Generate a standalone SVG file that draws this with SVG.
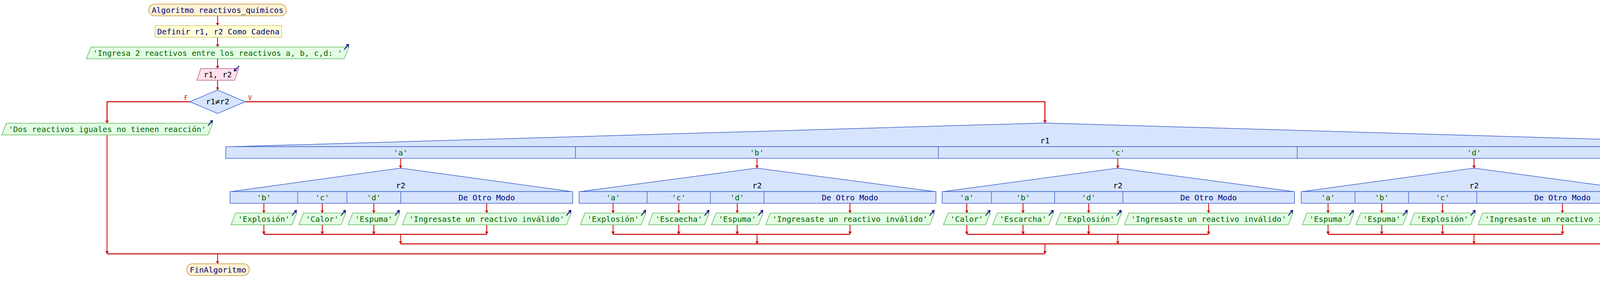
<svg xmlns="http://www.w3.org/2000/svg" width="4782" height="740" viewBox="0 0 4782 740">
<style>
text{font-family:"DejaVu Sans Mono","Liberation Mono",monospace;font-size:20px;text-anchor:middle}
.term{fill:#fff3d3;stroke:#c8913a;stroke-width:1.5}
.proc{fill:#ffffd5;stroke:#d3c46a;stroke-width:1.5}
.out{fill:#e3fde3;stroke:#5cbb5c;stroke-width:1.5}
.inp{fill:#fde1ec;stroke:#bf5c84;stroke-width:1.5}
.sw{fill:#d6e4fd;stroke:#3c5ec8;stroke-width:1.5}
.div{stroke:#3c5ec8;stroke-width:1.5}
.tn{fill:#000080}
.tg{fill:#006400}
.tk{fill:#000000}
.tr{fill:#cc0000;font-size:15px}
.ic{fill:none;stroke:#000080;stroke-width:2;marker-end:url(#ih)}
.c{fill:none;stroke:#cc0000;stroke-width:2}
.a{marker-end:url(#ah)}
.h{stroke-width:2.5}
</style>
<defs>
<marker id="ah" viewBox="0 0 10 10" refX="10" refY="5" markerUnits="userSpaceOnUse" markerWidth="7" markerHeight="9" orient="auto" preserveAspectRatio="none"><path d="M0,0 L10,5 L0,10 z" fill="#cc0000"/></marker>
<marker id="ih" viewBox="0 0 10 10" refX="8" refY="5" markerUnits="userSpaceOnUse" markerWidth="7" markerHeight="8" orient="auto" preserveAspectRatio="none"><path d="M0,0 L9,5 L0,10" fill="none" stroke="#000080" stroke-width="2.5"/></marker>
</defs>
<rect width="4782" height="740" fill="#ffffff"/>

<g id="connectors">
<path class="c a" d="M557,40.5 V65.5"/>
<path class="c a" d="M557,95.5 V120.5"/>
<path class="c a" d="M557,150.5 V175.5"/>
<path class="c a" d="M557,205.5 V230.5"/>
<path class="c a h" d="M486,260.5 H274 V315.5"/>
<path class="c a h" d="M628,260.5 H2675 V315"/>
<path class="c a" d="M274,345.5 V650"/>
<path class="c a" d="M1025.5,405.5 V430.5"/>
<path class="c a" d="M1938,405.5 V430.5"/>
<path class="c a" d="M2861.5,405.5 V430.5"/>
<path class="c a" d="M3773.5,405.5 V430.5"/>
<path class="c a" d="M4500,405.5 V430.5"/>
<path class="c a" d="M675.5,520.5 V545.5"/>
<path class="c a" d="M825,520.5 V545.5"/>
<path class="c a" d="M957,520.5 V545.5"/>
<path class="c a" d="M1246,520.5 V545.5"/>
<path class="c a" d="M1569.5,520.5 V545.5"/>
<path class="c a" d="M1737.6,520.5 V545.5"/>
<path class="c a" d="M1887.3,520.5 V545.5"/>
<path class="c a" d="M2176,520.5 V545.5"/>
<path class="c a" d="M2475,520.5 V545.5"/>
<path class="c a" d="M2619,520.5 V545.5"/>
<path class="c a" d="M2787,520.5 V545.5"/>
<path class="c a" d="M3094,520.5 V545.5"/>
<path class="c a" d="M3399.8,520.5 V545.5"/>
<path class="c a" d="M3537.3,520.5 V545.5"/>
<path class="c a" d="M3693,520.5 V545.5"/>
<path class="c a" d="M4000,520.5 V545.5"/>
<path class="c a" d="M675.5,575.5 V600"/>
<path class="c a" d="M825,575.5 V600"/>
<path class="c a" d="M957,575.5 V600"/>
<path class="c a" d="M1246,575.5 V600"/>
<path class="c a" d="M1569.5,575.5 V600"/>
<path class="c a" d="M1737.6,575.5 V600"/>
<path class="c a" d="M1887.3,575.5 V600"/>
<path class="c a" d="M2176,575.5 V600"/>
<path class="c a" d="M2475,575.5 V600"/>
<path class="c a" d="M2619,575.5 V600"/>
<path class="c a" d="M2787,575.5 V600"/>
<path class="c a" d="M3094,575.5 V600"/>
<path class="c a" d="M3399.8,575.5 V600"/>
<path class="c a" d="M3537.3,575.5 V600"/>
<path class="c a" d="M3693,575.5 V600"/>
<path class="c a" d="M4000,575.5 V600"/>
<path class="c h" d="M675.5,600 H1246"/>
<path class="c h" d="M1569.5,600 H2176"/>
<path class="c h" d="M2475,600 H3094"/>
<path class="c h" d="M3399.8,600 H4000"/>
<path class="c a" d="M1025.5,600 V624.5"/>
<path class="c a" d="M1938,600 V624.5"/>
<path class="c a" d="M2861.5,600 V624.5"/>
<path class="c a" d="M3773.5,600 V624.5"/>
<path class="c h" d="M1025.5,624.5 H4500"/>
<path class="c a" d="M4500,460.5 V484"/>
<path class="c a" d="M4500,484 V624.5"/>
<path class="c a" d="M2675,624.5 V650"/>
<path class="c h" d="M274,650 H2675"/>
<path class="c a" d="M557,650 V675.5"/>
<text class="tr" x="476" y="256">F</text>
<text class="tr" x="640" y="256">V</text>
</g>

<g id="inicio">
<rect class="term" x="381" y="10.5" width="352" height="30" rx="15"/>
<text class="tn" x="557" y="33">Algoritmo reactivos_quimicos</text>
</g>
<g id="definir">
<rect class="proc" x="397" y="65.5" width="324" height="30"/>
<text class="tn" x="559" y="88">Definir r1, r2 Como Cadena</text>
</g>
<g id="escribir_ingresa">
<polygon class="out" points="233,120.5 893,120.5 881,150.5 221,150.5"/>
<text class="tg" x="557" y="143">'Ingresa 2 reactivos entre los reactivos a, b, c,d: '</text>
<path class="ic" d="M881,127 L892,114"/>
</g>
<g id="leer">
<polygon class="inp" points="514,175.5 611,175.5 601,205.5 504,205.5"/>
<text class="tk" x="557.5" y="198">r1, r2</text>
<path class="ic" d="M612.5,169 L600,181.5"/>
</g>
<g id="si_distintos">
<polygon class="sw" points="557,230.5 628,260.5 557,290.5 486,260.5"/>
<text class="tk" x="557" y="267">r1≠r2</text>
</g>
<g id="escribir_iguales">
<polygon class="out" points="16.5,315.5 544.5,315.5 532.5,345.5 4.5,345.5"/>
<text class="tg" x="274.5" y="338">'Dos reactivos iguales no tienen reacción'</text>
<path class="ic" d="M532.5,322 L543.5,309"/>
</g>

<g id="segun_r1">
<polygon class="sw" points="596,375.5 2675,315 4754,375.5"/>
<rect class="sw" x="578" y="375.5" width="4196" height="30"/>
<line class="div" x1="1473" y1="375.5" x2="1473" y2="405.5"/>
<line class="div" x1="2402" y1="375.5" x2="2402" y2="405.5"/>
<line class="div" x1="3321" y1="375.5" x2="3321" y2="405.5"/>
<line class="div" x1="4226" y1="375.5" x2="4226" y2="405.5"/>
<text class="tk" x="2675" y="367">r1</text>
<text class="tg" x="1025.5" y="398">'a'</text>
<text class="tg" x="1937.5" y="398">'b'</text>
<text class="tg" x="2861.5" y="398">'c'</text>
<text class="tg" x="3773.5" y="398">'d'</text>
<text class="tn" x="4500" y="398">De Otro Modo</text>
</g>

<g id="segun_r2_a">
<polygon class="sw" points="592,490.5 1025.5,430.5 1463,490.5"/>
<rect class="sw" x="589" y="490.5" width="877" height="30"/>
<line class="div" x1="762" y1="490.5" x2="762" y2="520.5"/>
<line class="div" x1="888" y1="490.5" x2="888" y2="520.5"/>
<line class="div" x1="1026" y1="490.5" x2="1026" y2="520.5"/>
<text class="tk" x="1025.5" y="482">r2</text>
<text class="tg" x="675.5" y="513">'b'</text>
<text class="tg" x="825" y="513">'c'</text>
<text class="tg" x="957" y="513">'d'</text>
<text class="tn" x="1246" y="513">De Otro Modo</text>
</g>
<g id="segun_r2_b">
<polygon class="sw" points="1485.5,490.5 1938,430.5 2393,490.5"/>
<rect class="sw" x="1482.5" y="490.5" width="913.5" height="30"/>
<line class="div" x1="1656.6" y1="490.5" x2="1656.6" y2="520.5"/>
<line class="div" x1="1818.6" y1="490.5" x2="1818.6" y2="520.5"/>
<line class="div" x1="1956" y1="490.5" x2="1956" y2="520.5"/>
<text class="tk" x="1938" y="482">r2</text>
<text class="tg" x="1569.5" y="513">'a'</text>
<text class="tg" x="1737.6" y="513">'c'</text>
<text class="tg" x="1887.3" y="513">'d'</text>
<text class="tn" x="2176" y="513">De Otro Modo</text>
</g>
<g id="segun_r2_c">
<polygon class="sw" points="2415,490.5 2861.5,430.5 3311,490.5"/>
<rect class="sw" x="2412" y="490.5" width="902" height="30"/>
<line class="div" x1="2538" y1="490.5" x2="2538" y2="520.5"/>
<line class="div" x1="2700" y1="490.5" x2="2700" y2="520.5"/>
<line class="div" x1="2874.5" y1="490.5" x2="2874.5" y2="520.5"/>
<text class="tk" x="2861.5" y="482">r2</text>
<text class="tg" x="2475" y="513">'a'</text>
<text class="tg" x="2619" y="513">'b'</text>
<text class="tg" x="2787" y="513">'d'</text>
<text class="tn" x="3094" y="513">De Otro Modo</text>
</g>
<g id="segun_r2_d">
<polygon class="sw" points="3334,490.5 3773.5,430.5 4217,490.5"/>
<rect class="sw" x="3331" y="490.5" width="889" height="30"/>
<line class="div" x1="3468.6" y1="490.5" x2="3468.6" y2="520.5"/>
<line class="div" x1="3606" y1="490.5" x2="3606" y2="520.5"/>
<line class="div" x1="3780.5" y1="490.5" x2="3780.5" y2="520.5"/>
<text class="tk" x="3773.5" y="482">r2</text>
<text class="tg" x="3399.8" y="513">'a'</text>
<text class="tg" x="3537.3" y="513">'b'</text>
<text class="tg" x="3693" y="513">'c'</text>
<text class="tn" x="4000" y="513">De Otro Modo</text>
</g>

<g id="a_b"><polygon class="out" points="603.5,545.5 759.5,545.5 747.5,575.5 591.5,575.5"/><text class="tg" x="675.5" y="568">'Explosión'</text><path class="ic" d="M747.5,552 L758.5,539"/></g>
<g id="a_c"><polygon class="out" points="777,545.5 885,545.5 873,575.5 765,575.5"/><text class="tg" x="825" y="568">'Calor'</text><path class="ic" d="M873,552 L884,539"/></g>
<g id="a_d"><polygon class="out" points="903,545.5 1023,545.5 1011,575.5 891,575.5"/><text class="tg" x="957" y="568">'Espuma'</text><path class="ic" d="M1011,552 L1022,539"/></g>
<g id="a_otro"><polygon class="out" points="1042,545.5 1462,545.5 1450,575.5 1030,575.5"/><text class="tg" x="1246" y="568">'Ingresaste un reactivo inválido'</text><path class="ic" d="M1450,552 L1461,539"/></g>

<g id="b_a"><polygon class="out" points="1497.5,545.5 1653.5,545.5 1641.5,575.5 1485.5,575.5"/><text class="tg" x="1569.5" y="568">'Explosión'</text><path class="ic" d="M1641.5,552 L1652.5,539"/></g>
<g id="b_c"><polygon class="out" points="1671.6,545.5 1815.6,545.5 1803.6,575.5 1659.6,575.5"/><text class="tg" x="1737.6" y="568">'Escaecha'</text><path class="ic" d="M1803.6,552 L1814.6,539"/></g>
<g id="b_d"><polygon class="out" points="1833.3,545.5 1953.3,545.5 1941.3,575.5 1821.3,575.5"/><text class="tg" x="1887.3" y="568">'Espuma'</text><path class="ic" d="M1941.3,552 L1952.3,539"/></g>
<g id="b_otro"><polygon class="out" points="1972,545.5 2392,545.5 2380,575.5 1960,575.5"/><text class="tg" x="2176" y="568">'Ingresaste un reactivo inválido'</text><path class="ic" d="M2380,552 L2391,539"/></g>

<g id="c_a"><polygon class="out" points="2427,545.5 2535,545.5 2523,575.5 2415,575.5"/><text class="tg" x="2475" y="568">'Calor'</text><path class="ic" d="M2523,552 L2534,539"/></g>
<g id="c_b"><polygon class="out" points="2553,545.5 2697,545.5 2685,575.5 2541,575.5"/><text class="tg" x="2619" y="568">'Escarcha'</text><path class="ic" d="M2685,552 L2696,539"/></g>
<g id="c_d"><polygon class="out" points="2715,545.5 2871,545.5 2859,575.5 2703,575.5"/><text class="tg" x="2787" y="568">'Explosión'</text><path class="ic" d="M2859,552 L2870,539"/></g>
<g id="c_otro"><polygon class="out" points="2890,545.5 3310,545.5 3298,575.5 2878,575.5"/><text class="tg" x="3094" y="568">'Ingresaste un reactivo inválido'</text><path class="ic" d="M3298,552 L3309,539"/></g>

<g id="d_a"><polygon class="out" points="3345.8,545.5 3465.8,545.5 3453.8,575.5 3333.8,575.5"/><text class="tg" x="3399.8" y="568">'Espuma'</text><path class="ic" d="M3453.8,552 L3464.8,539"/></g>
<g id="d_b"><polygon class="out" points="3483.3,545.5 3603.3,545.5 3591.3,575.5 3471.3,575.5"/><text class="tg" x="3537.3" y="568">'Espuma'</text><path class="ic" d="M3591.3,552 L3602.3,539"/></g>
<g id="d_c"><polygon class="out" points="3621,545.5 3777,545.5 3765,575.5 3609,575.5"/><text class="tg" x="3693" y="568">'Explosión'</text><path class="ic" d="M3765,552 L3776,539"/></g>
<g id="d_otro"><polygon class="out" points="3796,545.5 4216,545.5 4204,575.5 3784,575.5"/><text class="tg" x="4000" y="568">'Ingresaste un reactivo inválido'</text><path class="ic" d="M4204,552 L4215,539"/></g>

<g id="r1_otro"><polygon class="out" points="4242,430.5 4770,430.5 4758,460.5 4230,460.5"/><text class="tg" x="4500" y="453">'Ingresaste al menos un reactivo inválido'</text><path class="ic" d="M4758,437 L4769,424"/></g>

<g id="fin">
<rect class="term" x="478" y="675.5" width="160" height="30" rx="15"/>
<text class="tn" x="558" y="698">FinAlgoritmo</text>
</g>
</svg>
